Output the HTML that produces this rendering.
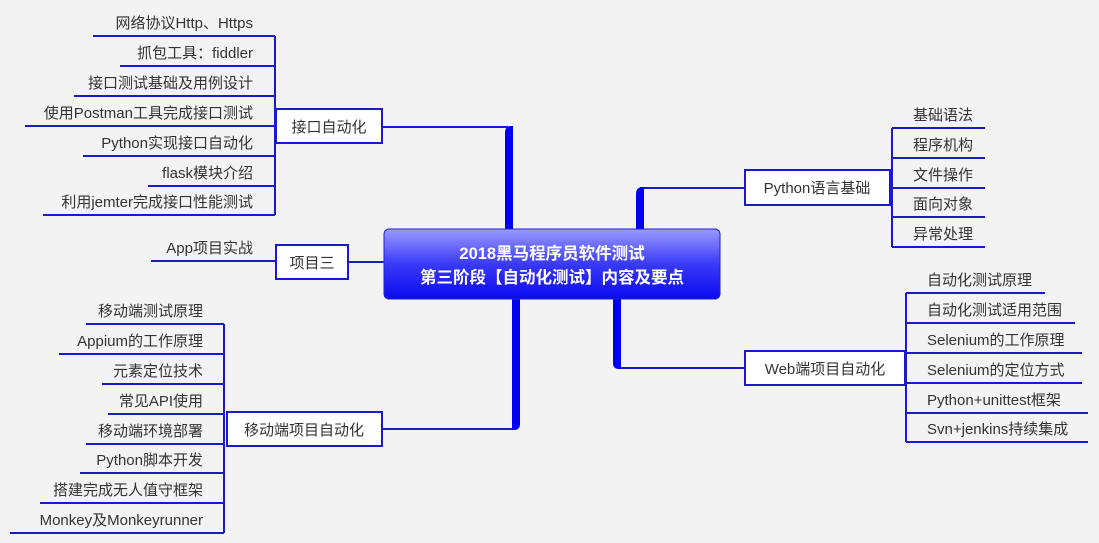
<!DOCTYPE html>
<html><head><meta charset="utf-8"><style>
html,body{margin:0;padding:0;background:#f3f3f3;}
svg{display:block;}
text{font-family:"Liberation Sans","Noto Sans CJK SC",sans-serif;font-size:15px;fill:#333;}
.b{fill:#fff;stroke:#1a1ac8;stroke-width:2;}
.l{stroke:#1a1ac8;stroke-width:2;fill:none;}
.t{fill:#0000f0;}
</style></head><body>
<svg width="1099" height="543" viewBox="0 0 1099 543">
<defs><linearGradient id="g" x1="0" y1="0" x2="0" y2="1">
<stop offset="0" stop-color="#9a9aff"/><stop offset="0.5" stop-color="#3a3af8"/><stop offset="1" stop-color="#0a0af0"/></linearGradient></defs>

<!-- thick connectors -->
<path class="l" d="M382,127 H508"/>
<path class="t" d="M505,133 Q505,126 511,126 H513 V232 H505 Z"/>
<path class="l" d="M640,188 H745"/>
<path class="t" d="M636,194 Q636,187 643,187 H644 V232 H636 Z"/>
<path class="l" d="M382,429 H515"/>
<path class="t" d="M512,296 H520 V424 Q520,430 514,430 H512 Z"/>
<path class="l" d="M618,368 H745"/>
<path class="t" d="M613,296 H621 V369 H619 Q613,369 613,363 Z"/>
<path class="l" d="M348,262 H385"/>

<!-- center -->
<rect x="384" y="229" width="336" height="70" rx="5" fill="url(#g)" stroke="#2020d0" stroke-width="1"/>
<text x="552" y="259" text-anchor="middle" style="fill:#fff;font-weight:bold;font-size:16.5px">2018黑马程序员软件测试</text>
<text x="552" y="283" text-anchor="middle" style="fill:#fff;font-weight:bold;font-size:16.5px">第三阶段【自动化测试】内容及要点</text>

<!-- 接口自动化 leaves -->
<path class="l" d="M275,36 V215"/>
<path class="l" d="M93,36H275M120,66H275M74,96H275M25,126H275M83,156H275M148,186H275M43,215H275"/>
<g text-anchor="end">
<text x="253" y="28">网络协议Http、Https</text>
<text x="253" y="58">抓包工具：fiddler</text>
<text x="253" y="88">接口测试基础及用例设计</text>
<text x="253" y="118">使用Postman工具完成接口测试</text>
<text x="253" y="148">Python实现接口自动化</text>
<text x="253" y="178">flask模块介绍</text>
<text x="253" y="207">利用jemter完成接口性能测试</text>
<text x="253" y="253">App项目实战</text>
</g>
<path class="l" d="M151,261H276"/>
<rect class="b" x="276" y="109" width="106" height="34"/>
<text x="329" y="132" text-anchor="middle">接口自动化</text>
<rect class="b" x="276" y="245" width="72" height="34"/>
<text x="312" y="268" text-anchor="middle">项目三</text>

<!-- Python leaves -->
<path class="l" d="M892,128 V247"/>
<path class="l" d="M892,128H985M892,158H985M892,188H985M892,217H985M892,247H985"/>
<text x="913" y="120">基础语法</text>
<text x="913" y="150">程序机构</text>
<text x="913" y="180">文件操作</text>
<text x="913" y="209">面向对象</text>
<text x="913" y="239">异常处理</text>
<rect class="b" x="745" y="170" width="145" height="35"/>
<text x="817" y="193" text-anchor="middle">Python语言基础</text>

<!-- Web leaves -->
<path class="l" d="M906,293 V442"/>
<path class="l" d="M906,293H1045M906,323H1075M906,353H1082M906,383H1082M906,413H1088M906,442H1088"/>
<text x="927" y="285">自动化测试原理</text>
<text x="927" y="315">自动化测试适用范围</text>
<text x="927" y="345">Selenium的工作原理</text>
<text x="927" y="375">Selenium的定位方式</text>
<text x="927" y="405">Python+unittest框架</text>
<text x="927" y="434">Svn+jenkins持续集成</text>
<rect class="b" x="745" y="351" width="160" height="34"/>
<text x="825" y="374" text-anchor="middle">Web端项目自动化</text>

<!-- Mobile leaves -->
<path class="l" d="M224,324 V533"/>
<path class="l" d="M86,324H224M59,354H224M102,384H224M108,414H224M86,444H224M80,473H224M40,503H224M10,533H224"/>
<g text-anchor="end">
<text x="203" y="316">移动端测试原理</text>
<text x="203" y="346">Appium的工作原理</text>
<text x="203" y="376">元素定位技术</text>
<text x="203" y="406">常见API使用</text>
<text x="203" y="436">移动端环境部署</text>
<text x="203" y="465">Python脚本开发</text>
<text x="203" y="495">搭建完成无人值守框架</text>
<text x="203" y="525">Monkey及Monkeyrunner</text>
</g>
<rect class="b" x="227" y="412" width="155" height="34"/>
<text x="304" y="435" text-anchor="middle">移动端项目自动化</text>
</svg>
</body></html>
